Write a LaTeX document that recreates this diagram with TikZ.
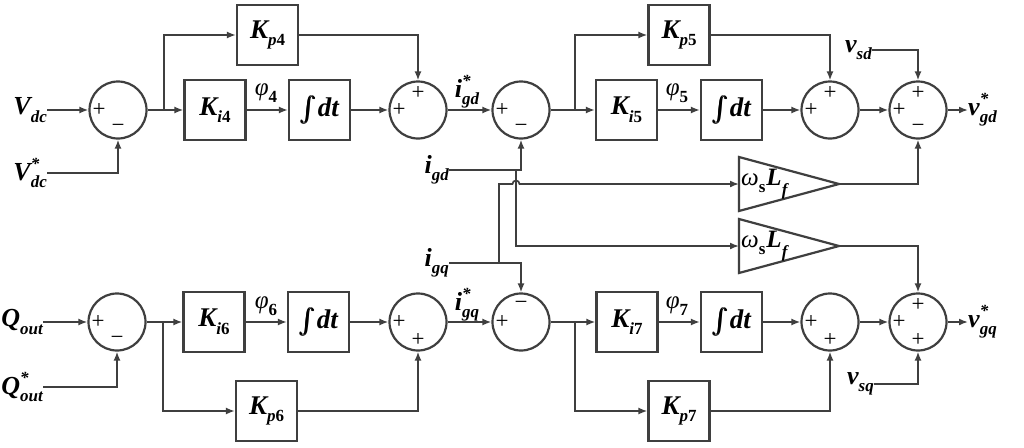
\documentclass[tikz,border=0pt]{standalone}
\usepackage{amsmath}
\usepackage{fontspec}
\setmainfont{Liberation Serif}
\usetikzlibrary{arrows.meta}
\definecolor{ln}{HTML}{3F3F3F}
\newcommand\bi{\bfseries\itshape}
\newcommand\sbs[1]{\raisebox{-0.28em}{\fontsize{17}{17}\selectfont #1}}
\newcommand\ssb[1]{\raisebox{-0.42em}{\fontsize{17}{17}\selectfont #1}}
\newcommand\sps{\rlap{\raisebox{0.42em}{\fontsize{17}{17}\selectfont *}}}
\newcommand\intdt{\(\pmb{\int}\)\kern1pt{\bi dt}}
\newcommand\sgL[1]{\node[sgn] (#1l) at ([xshift=-19pt]#1.center) {+};}
\newcommand\sgT[2]{\node[sgn] (#1t) at ([yshift=17pt]#1.center) {#2};}
\newcommand\sgB[2]{\node[sgn] (#1b) at ([yshift=-18pt]#1.center) {#2};}
\begin{document}
\begin{tikzpicture}[x=1pt,y=-1pt,
  arr/.style={-{Latex[length=9pt,width=7pt]}, draw=ln, line width=1.7pt},
  blk/.style={draw=ln, line width=2.2pt, minimum width=61pt, minimum height=60pt, inner sep=0pt, font=\fontsize{27}{30}\selectfont},
  sumn/.style={circle, draw=ln, line width=2.2pt, minimum size=57pt, inner sep=0pt},
  lbl/.style={inner sep=0pt, font=\fontsize{26}{30}\selectfont},
  slbl/.style={inner sep=0pt, font=\fontsize{25}{28}\selectfont},
  sgn/.style={inner sep=0pt, text=black, font=\fontsize{23}{23}\selectfont},
  tri/.style={draw=ln, line width=2.2pt, line join=miter}
]
\fill[white] (0,0) rectangle (1024,447);
\useasboundingbox (0,0) rectangle (1024,447);

% summing junctions
\node[sumn] (S1) at (118,110) {};
\node[sumn] (S2) at (418,110) {};
\node[sumn] (S3) at (521,110) {};
\node[sumn] (S4) at (830,110) {};
\node[sumn] (S5) at (918,110) {};
\node[sumn] (S6) at (117,322) {};
\node[sumn] (S7) at (418,322) {};
\node[sumn] (S8) at (521,322) {};
\node[sumn] (S9) at (830,322) {};
\node[sumn] (S10) at (918,322) {};

% blocks
\node[blk] (Kp4) at (267.5,35) {\bi K\sbs{p\upshape4}};
\node[blk] (Ki4) at (215,110) {\bi K\sbs{i\upshape4}};
\node[blk] (I4) at (319.5,110) {\intdt};
\node[blk] (Kp5) at (679,35) {\bi K\sbs{p\upshape5}};
\node[blk] (Ki5) at (626.5,110) {\bi K\sbs{i\upshape5}};
\node[blk] (I5) at (731.5,110) {\intdt};
\node[blk] (Ki6) at (214,322) {\bi K\sbs{i\upshape6}};
\node[blk] (I6) at (318.5,322) {\intdt};
\node[blk] (Kp6) at (266.5,411) {\bi K\sbs{p\upshape6}};
\node[blk] (Ki7) at (627,322) {\bi K\sbs{i\upshape7}};
\node[blk] (I7) at (731.5,322) {\intdt};
\node[blk] (Kp7) at (679,411) {\bi K\sbs{p\upshape7}};

% triangles
\draw[tri] (739,157) -- (839,184) -- (739,211) -- cycle;
\coordinate (T1in) at (739,184);
\coordinate (T1out) at (839,184);
\node[slbl, anchor=west] (L1) at (741,184) {{\itshape ω}\sbs{\bfseries s}\kern1pt{\bi L}\ssb{\bi f}};
\draw[tri] (739,219) -- (839,246) -- (739,273) -- cycle;
\coordinate (T2in) at (739,246);
\coordinate (T2out) at (839,246);
\node[slbl, anchor=west] (L2) at (741,246) {{\itshape ω}\sbs{\bfseries s}\kern1pt{\bi L}\ssb{\bi f}};

% signal labels
\node[lbl, anchor=east] (Vdc) at (47,110) {\bi V\sbs{dc}};
\node[lbl, anchor=east] (Vdcs) at (47,173) {\bi V\sps\sbs{dc}};
\node[lbl, anchor=east] (Qo) at (43,322) {\bi Q\sbs{out}};
\node[lbl, anchor=east] (Qos) at (43,387) {\bi Q\sps\sbs{out}};
\node[lbl, anchor=east] (igd) at (449,170) {\bi i\sbs{gd}};
\node[lbl, anchor=east] (igq) at (449,263) {\bi i\sbs{gq}};
\node[lbl, anchor=east] (vsd) at (872,50) {\bi v\sbs{sd}};
\node[lbl, anchor=east] (vsq) at (874,384) {\bi v\sbs{sq}};
\node[lbl, anchor=west] (vgd) at (968,110) {\bi v\sps\sbs{gd}};
\node[lbl, anchor=west] (vgq) at (968,322) {\bi v\sps\sbs{gq}};
\node[lbl] (igds) at (467,92) {\bi i\sps\sbs{gd}};
\node[lbl] (igqs) at (467,305) {\bi i\sps\sbs{gq}};
\node[slbl] (phi4) at (266,93) {{\itshape φ}\sbs{\bfseries 4}};
\node[slbl] (phi5) at (677,93) {{\itshape φ}\sbs{\bfseries 5}};
\node[slbl] (phi6) at (266,306) {{\itshape φ}\sbs{\bfseries 6}};
\node[slbl] (phi7) at (677,306) {{\itshape φ}\sbs{\bfseries 7}};

% signs
\sgL{S1}\sgB{S1}{−}
\sgL{S2}\sgT{S2}{+}
\sgL{S3}\sgB{S3}{−}
\sgL{S4}\sgT{S4}{+}
\sgL{S5}\sgT{S5}{+}\sgB{S5}{−}
\sgL{S6}\sgB{S6}{−}
\sgL{S7}\sgB{S7}{+}
\sgL{S8}\sgT{S8}{−}
\sgL{S9}\sgB{S9}{+}
\sgL{S10}\sgT{S10}{+}\sgB{S10}{+}

% top row connections
\coordinate (B1) at (164,110);
\draw[arr] (Vdc.east) -- (S1.west);
\draw[arr] (Vdcs.east) -| (S1.south);
\draw[arr] (S1.east) -- (Ki4.west);
\draw[arr] (B1) |- (Kp4.west);
\draw[arr] (Ki4.east) -- (I4.west);
\draw[arr] (I4.east) -- (S2.west);
\draw[arr] (Kp4.east) -| (S2.north);
\draw[arr] (S2.east) -- (S3.west);
\draw[arr] (igd.east) -| (S3.south);
\coordinate (B3) at (575,110);
\draw[arr] (S3.east) -- (Ki5.west);
\draw[arr] (B3) |- (Kp5.west);
\draw[arr] (Ki5.east) -- (I5.west);
\draw[arr] (I5.east) -- (S4.west);
\draw[arr] (Kp5.east) -| (S4.north);
\draw[arr] (S4.east) -- (S5.west);
\draw[arr] (vsd.east) -| (S5.north);
\draw[arr] (S5.east) -- (vgd.west);
\draw[arr] (T1out) -| (S5.south);

% bottom row connections
\coordinate (B6) at (163,322);
\draw[arr] (Qo.east) -- (S6.west);
\draw[arr] (Qos.east) -| (S6.south);
\draw[arr] (S6.east) -- (Ki6.west);
\draw[arr] (B6) |- (Kp6.west);
\draw[arr] (Ki6.east) -- (I6.west);
\draw[arr] (I6.east) -- (S7.west);
\draw[arr] (Kp6.east) -| (S7.south);
\draw[arr] (S7.east) -- (S8.west);
\draw[arr] (igq.east) -| (S8.north);
\coordinate (B8) at (575,322);
\draw[arr] (S8.east) -- (Ki7.west);
\draw[arr] (B8) |- (Kp7.west);
\draw[arr] (Ki7.east) -- (I7.west);
\draw[arr] (I7.east) -- (S9.west);
\draw[arr] (Kp7.east) -| (S9.south);
\draw[arr] (S9.east) -- (S10.west);
\draw[arr] (vsq.east) -| (S10.south);
\draw[arr] (S10.east) -- (vgq.west);
\draw[arr] (T2out) -| (S10.north);

% cross coupling
\coordinate (J1) at (516,170);
\coordinate (J2) at (499,263);
\draw[arr] (J1) |- (T2in);
\draw[arr] (J2) -- (499,184) -- (512.5,184) arc[start angle=180, end angle=0, radius=3.5pt] -- (T1in);
\end{tikzpicture}
\end{document}
